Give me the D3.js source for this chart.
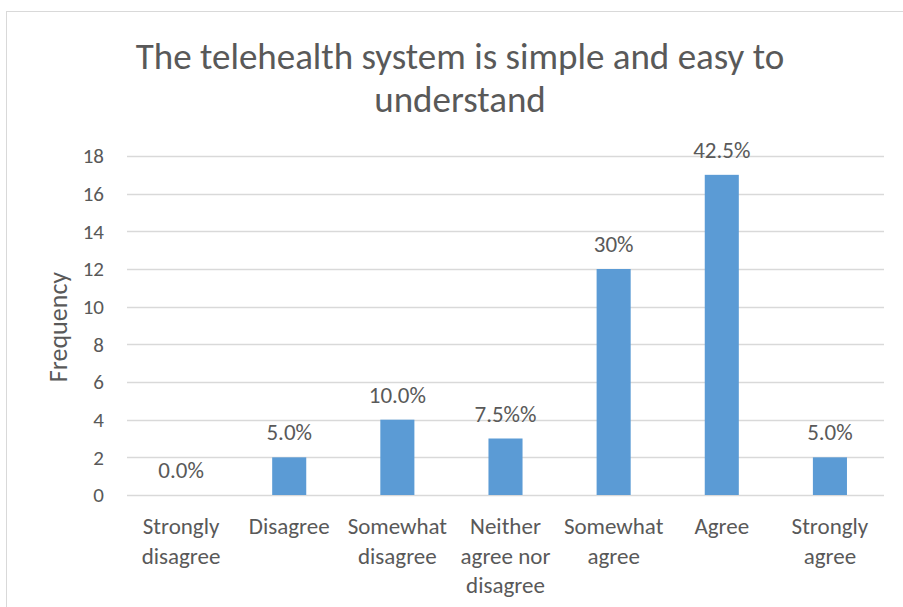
<!DOCTYPE html>
<html>
<head>
<meta charset="utf-8">
<script src="https://cdn.jsdelivr.net/npm/d3@7"></script>
<style>
  html, body { margin: 0; padding: 0; background: #fff; }
  svg { display: block; font-family: Carlito, Lato, "Open Sans", sans-serif; }
</style>
</head>
<body>
<svg id="chart" width="903" height="607"></svg>
<script>
const categories = [
  ["Strongly", "disagree"],
  ["Disagree"],
  ["Somewhat", "disagree"],
  ["Neither", "agree nor", "disagree"],
  ["Somewhat", "agree"],
  ["Agree"],
  ["Strongly", "agree"]
];
const frequencies = [0, 2, 4, 3, 12, 17, 2];
const valueLabels = ["0.0%", "5.0%", "10.0%", "7.5%%", "30%", "42.5%", "5.0%"];
const yTicks = [0, 2, 4, 6, 8, 10, 12, 14, 16, 18];
const titleLines = ["The telehealth system is simple and easy to", "understand"];
const yTitle = "Frequency";

const svg = d3.select("#chart");
const fontFamily = "Carlito, Lato, 'Open Sans', sans-serif";
const textColor = "#595959";
const barColor = "#5b9bd5";
const gridColor = "#d9d9d9";

// chart frame
svg.append("rect")
  .attr("x", 6.5).attr("y", 11.5)
  .attr("width", 920).attr("height", 620)
  .attr("fill", "none").attr("stroke", gridColor).attr("stroke-width", 1);

const plot = { left: 127, right: 884, top: 156, bottom: 495 };

const x = d3.scaleBand()
  .domain(d3.range(categories.length))
  .range([plot.left, plot.right])
  .paddingInner(0.685)
  .paddingOuter(0.3425);

const y = d3.scaleLinear().domain([0, 18]).range([plot.bottom, plot.top]);

// gridlines
svg.append("g").selectAll("line")
  .data(yTicks)
  .join("line")
  .attr("x1", plot.left).attr("x2", plot.right)
  .attr("y1", d => Math.round(y(d)) + 0.5).attr("y2", d => Math.round(y(d)) + 0.5)
  .attr("stroke", gridColor).attr("stroke-width", 1.3);

// y tick labels
const yAxis = d3.axisLeft(y).tickValues(yTicks).tickSize(0).tickPadding(0);
const yg = svg.append("g").attr("transform", `translate(${plot.left - 23},0)`).call(yAxis);
yg.select(".domain").remove();
yg.selectAll("text")
  .attr("fill", textColor)
  .style("font-size", "21px")
  .style("font-family", fontFamily);

// bars
svg.append("g").selectAll("rect")
  .data(frequencies)
  .join("rect")
  .attr("x", (d, i) => x(i))
  .attr("width", x.bandwidth())
  .attr("y", d => y(d))
  .attr("height", d => y(0) - y(d))
  .attr("fill", barColor);

// value labels
svg.append("g").selectAll("text")
  .data(frequencies)
  .join("text")
  .attr("x", (d, i) => x(i) + x.bandwidth() / 2)
  .attr("y", d => y(d) - 17)
  .attr("text-anchor", "middle")
  .attr("fill", textColor)
  .style("font-size", "23px")
  .text((d, i) => valueLabels[i]);

// category labels
const cat = svg.append("g").selectAll("text")
  .data(categories)
  .join("text")
  .attr("x", (d, i) => x(i) + x.bandwidth() / 2)
  .attr("y", 534)
  .attr("text-anchor", "middle")
  .attr("fill", textColor)
  .style("font-size", "23px");
cat.selectAll("tspan")
  .data(d => d)
  .join("tspan")
  .attr("x", function () { return d3.select(this.parentNode).attr("x"); })
  .attr("dy", (d, i) => i === 0 ? 0 : 29.5)
  .text(d => d);

// y axis title
svg.append("text")
  .attr("transform", "translate(67,327) rotate(-90)")
  .attr("text-anchor", "middle")
  .attr("fill", textColor)
  .style("font-size", "26px")
  .text(yTitle);

// chart title
svg.append("text")
  .attr("text-anchor", "middle")
  .attr("fill", textColor)
  .style("font-size", "37px")
  .selectAll("tspan")
  .data(titleLines)
  .join("tspan")
  .attr("x", 460)
  .attr("y", (d, i) => 69 + i * 43)
  .text(d => d);
</script>
</body>
</html>
